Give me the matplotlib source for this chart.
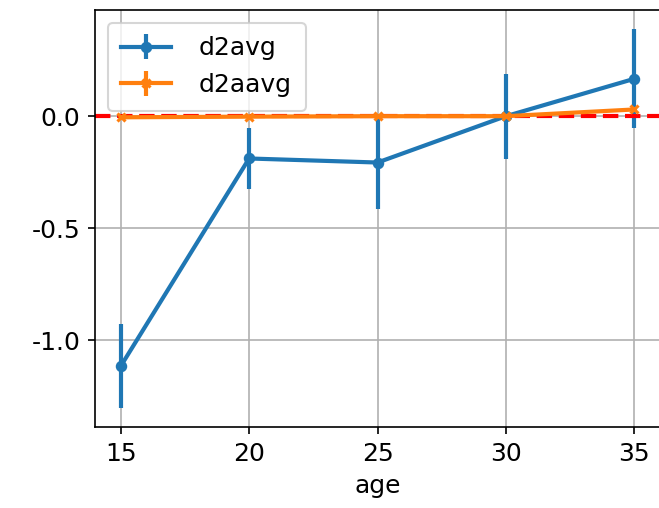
import matplotlib
matplotlib.use("Agg")
import matplotlib.pyplot as plt

plt.rcParams['axes.unicode_minus'] = False
plt.rcParams['font.size'] = 12

age = [15, 20, 25, 30, 35]
d2avg = [-1.117, -0.189, -0.207, 0.0, 0.167]
d2avg_err = [0.187, 0.135, 0.207, 0.19, 0.222]
d2aavg = [-0.005, -0.002, 0.0, 0.0, 0.03]
d2aavg_err = [0.006, 0.005, 0.005, 0.006, 0.008]

fig = plt.figure(figsize=(659 / 150, 508 / 150), dpi=150)
ax = fig.add_axes([0.1442, 0.1594, 0.8573, 0.8206])

ax.errorbar(age, d2avg, yerr=d2avg_err, marker='o', markersize=4.5,
            linewidth=2, elinewidth=2, label='d2avg')
ax.errorbar(age, d2aavg, yerr=d2aavg_err, marker='x', markersize=4,
            markeredgewidth=1.5, linewidth=2, elinewidth=2, label='d2aavg')
ax.axhline(0, color='red', linestyle='--', linewidth=2)
ax.grid(True)
ax.set_xlabel('age')
ax.set_yticks([0.0, -0.5, -1.0])
ax.set_yticklabels(['0.0', '-0.5', '-1.0'])
ax.set_title('avg d2 and d2a by age', y=1.0, pad=8)
ax.legend(loc='upper left', handletextpad=1.1, borderpad=0.55)

fig.savefig('out.png', dpi=150)
